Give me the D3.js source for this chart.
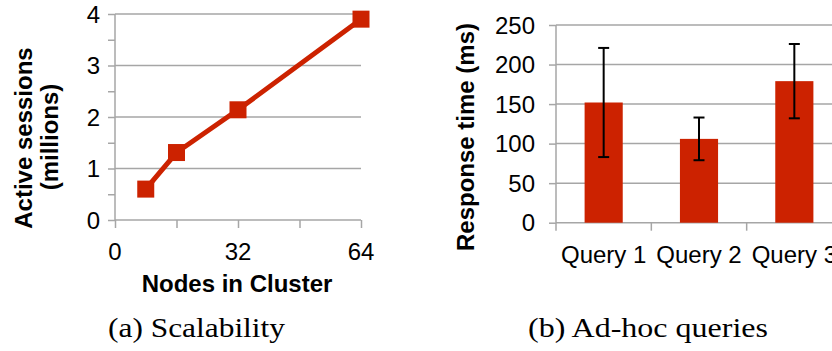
<!DOCTYPE html>
<html>
<head>
<meta charset="utf-8">
<script src="https://cdn.jsdelivr.net/npm/d3@7"></script>
<style>
  body { margin: 0; background: #fff; }
  svg { display: block; }
  text { font-family: "Liberation Sans", Arial, sans-serif; fill: #000; }
  .caption { font-family: "Liberation Serif", "DejaVu Serif", serif; }
</style>
</head>
<body>
<svg id="chart" width="832" height="351"></svg>
<script>
// (a) scalability data
const nodes = [8, 16, 32, 64];
const sessions = [0.6, 1.31, 2.14, 3.9];
const scaleXTicks = [0, 32, 64];
const scaleYTicks = [0, 1, 2, 3, 4];

// (b) ad-hoc query data
const queries = ["Query 1", "Query 2", "Query 3"];
const responseMs = [152, 106, 179];
const responseErr = [69, 27, 47];
const responseTicks = [0, 50, 100, 150, 200, 250];

const red = "#cc2200";
const gridColor = "#a6a6a6";

const svg = d3.select("#chart");

//----------------------------
// left chart: scalability

let xs = d3.scaleLinear().domain([0, 64]).range([115, 361]);
let ys = d3.scaleLinear().domain([0, 4]).range([220, 14]);

let left = svg.append("g");

// gridlines
left.selectAll("line.grid")
    .data(scaleYTicks.filter(d => d > 0))
    .enter().append("line")
    .attr("x1", xs(0)).attr("x2", xs(64))
    .attr("y1", d => ys(d)).attr("y2", d => ys(d))
    .attr("stroke", gridColor).attr("stroke-width", 1.5);

// y axis
let yAxisL = left.append("g")
    .attr("transform", `translate(${xs(0)},0)`)
    .call(d3.axisLeft(ys).tickValues(d3.range(0, 4.01, 0.5)).tickSize(7).tickFormat(""));
yAxisL.selectAll("path, line").attr("stroke", gridColor).attr("stroke-width", 1.5);
yAxisL.select("path").attr("d", `M0,${ys(0)}V${ys(4)}`);

left.selectAll("text.ytick")
    .data(scaleYTicks)
    .enter().append("text")
    .attr("x", 100).attr("y", d => ys(d) + 8.5)
    .attr("text-anchor", "end")
    .attr("font-size", 24)
    .text(d => d);

// x axis
let xAxisL = left.append("g")
    .attr("transform", `translate(0,${ys(0)})`)
    .call(d3.axisBottom(xs).tickValues([0, 16, 32, 48, 64]).tickSize(8).tickFormat(""));
xAxisL.selectAll("path, line").attr("stroke", gridColor).attr("stroke-width", 1.5);
xAxisL.select("path").attr("d", `M${xs(0)},0H${xs(64)}`);

left.selectAll("text.xtick")
    .data(scaleXTicks)
    .enter().append("text")
    .attr("x", d => xs(d)).attr("y", 260)
    .attr("text-anchor", "middle")
    .attr("font-size", 24)
    .text(d => d);

// line and markers
let lineGenerator = d3.line()
    .x((d, i) => xs(nodes[i]))
    .y(d => ys(d));

left.append("path")
    .datum(sessions)
    .attr("d", lineGenerator)
    .attr("fill", "none")
    .attr("stroke", red)
    .attr("stroke-width", 5);

left.selectAll("rect.marker")
    .data(sessions)
    .enter().append("rect")
    .attr("x", (d, i) => xs(nodes[i]) - 8.5)
    .attr("y", d => ys(d) - 8.5)
    .attr("width", 17).attr("height", 17)
    .attr("fill", red);

// axis titles
left.append("text")
    .attr("x", xs(32) - 1).attr("y", 292)
    .attr("text-anchor", "middle")
    .attr("font-size", 24).attr("font-weight", "bold")
    .text("Nodes in Cluster");

left.append("text")
    .attr("transform", "translate(32,138) rotate(-90)")
    .attr("text-anchor", "middle")
    .attr("font-size", 24).attr("font-weight", "bold")
    .text("Active sessions");

left.append("text")
    .attr("transform", "translate(58,137) rotate(-90)")
    .attr("text-anchor", "middle")
    .attr("font-size", 24).attr("font-weight", "bold")
    .text("(millions)");

//----------------------------
// right chart: ad-hoc queries

let xb = d3.scaleBand().domain(queries).range([556, 842]);
let yb = d3.scaleLinear().domain([0, 250]).range([222.7, 25]);

let right = svg.append("g");

right.selectAll("line.grid")
    .data(responseTicks.filter(d => d > 0))
    .enter().append("line")
    .attr("x1", 556).attr("x2", 842)
    .attr("y1", d => yb(d)).attr("y2", d => yb(d))
    .attr("stroke", gridColor).attr("stroke-width", 1.5);

let yAxisR = right.append("g")
    .attr("transform", "translate(556,0)")
    .call(d3.axisLeft(yb).tickValues(responseTicks).tickSize(7).tickFormat(""));
yAxisR.selectAll("path, line").attr("stroke", gridColor).attr("stroke-width", 1.5);
yAxisR.select("path").attr("d", `M0,${yb(0)}V${yb(250)}`);

right.selectAll("text.ytick")
    .data(responseTicks)
    .enter().append("text")
    .attr("x", 535).attr("y", d => yb(d) + 8.5)
    .attr("text-anchor", "end")
    .attr("font-size", 24)
    .text(d => d);

// x axis with ticks at band edges
let edges = queries.map(q => xb(q)).concat([xb.range()[1]]);
right.append("line")
    .attr("x1", 556).attr("x2", 842)
    .attr("y1", yb(0)).attr("y2", yb(0))
    .attr("stroke", gridColor).attr("stroke-width", 1.5);
right.selectAll("line.xtick")
    .data(edges)
    .enter().append("line")
    .attr("x1", d => d).attr("x2", d => d)
    .attr("y1", yb(0)).attr("y2", yb(0) + 8)
    .attr("stroke", gridColor).attr("stroke-width", 1.5);

let barW = xb.bandwidth() * 0.4;

right.selectAll("rect.bar")
    .data(responseMs)
    .enter().append("rect")
    .attr("x", (d, i) => xb(queries[i]) + xb.bandwidth() / 2 - barW / 2)
    .attr("y", d => yb(d))
    .attr("width", barW)
    .attr("height", d => yb(0) - yb(d))
    .attr("fill", red);

// error bars
responseMs.forEach((v, i) => {
    let cx = xb(queries[i]) + xb.bandwidth() / 2;
    let top = yb(v + responseErr[i]);
    let bot = yb(v - responseErr[i]);
    let g = right.append("g").attr("stroke", "#000").attr("stroke-width", 2);
    g.append("line").attr("x1", cx).attr("x2", cx).attr("y1", top).attr("y2", bot);
    g.append("line").attr("x1", cx - 5.5).attr("x2", cx + 5.5).attr("y1", top).attr("y2", top);
    g.append("line").attr("x1", cx - 5.5).attr("x2", cx + 5.5).attr("y1", bot).attr("y2", bot);
});

right.selectAll("text.xlabel")
    .data(queries)
    .enter().append("text")
    .attr("x", d => xb(d) + xb.bandwidth() / 2)
    .attr("y", 263)
    .attr("text-anchor", "middle")
    .attr("font-size", 24)
    .text(d => d);

right.append("text")
    .attr("transform", "translate(474,137) rotate(-90)")
    .attr("text-anchor", "middle")
    .attr("font-size", 24).attr("font-weight", "bold")
    .text("Response time (ms)");

//----------------------------
// captions
svg.append("text")
    .attr("class", "caption")
    .attr("x", 108).attr("y", 337)
    .attr("font-size", 27)
    .attr("textLength", 177).attr("lengthAdjust", "spacingAndGlyphs")
    .text("(a) Scalability");

svg.append("text")
    .attr("class", "caption")
    .attr("x", 528).attr("y", 337)
    .attr("font-size", 27)
    .attr("textLength", 240).attr("lengthAdjust", "spacingAndGlyphs")
    .text("(b)  Ad-hoc queries");
</script>
</body>
</html>
